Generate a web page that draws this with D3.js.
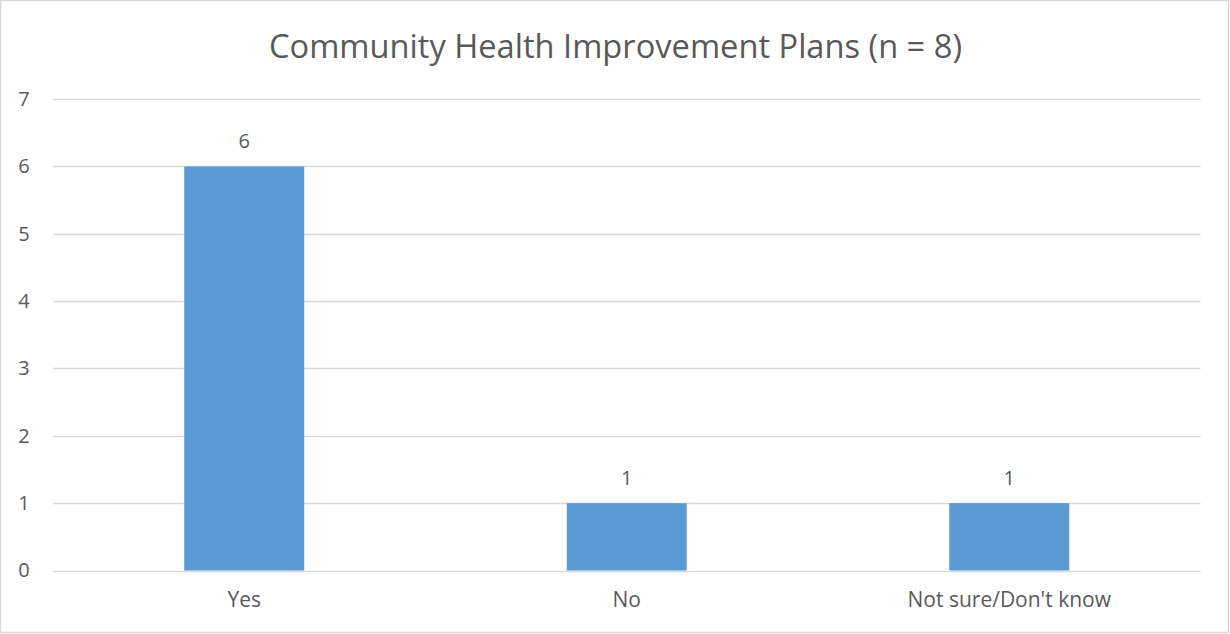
<!DOCTYPE html>
<html>
<head>
<meta charset="utf-8">
<script src="https://cdn.jsdelivr.net/npm/d3@7"></script>
<style>
  html, body { margin: 0; padding: 0; background: #fff; }
  svg { display: block; }
  text { font-family: "Open Sans", "Noto Sans", sans-serif; fill: #595959; }
</style>
</head>
<body>
<svg id="chart" width="1230" height="634"></svg>
<script>
// Survey responses
const categories = ["Yes", "No", "Not sure/Don't know"];
const counts = [6, 1, 1];
const yTicks = [0, 1, 2, 3, 4, 5, 6, 7];
const chartTitle = "Community Health Improvement Plans (n = 8)";

const W = 1230, H = 634;
const plot = { left: 53, right: 1200.5, top: 99, bottom: 570.5 };
const font = '"Open Sans", "Noto Sans", sans-serif';

const svg = d3.select("#chart");

// outer frame
svg.append("rect")
  .attr("x", 0.5).attr("y", 0.5)
  .attr("width", W - 2).attr("height", H - 2)
  .attr("fill", "#fff").attr("stroke", "#d9d9d9").attr("stroke-width", 1.5);

const x = d3.scaleBand()
  .domain(categories)
  .range([plot.left, plot.right])
  .paddingInner(0.6863)
  .paddingOuter(0.3431);

const y = d3.scaleLinear().domain([0, 7]).range([plot.bottom, plot.top]);

// horizontal gridlines
svg.append("g")
  .selectAll("line")
  .data(yTicks)
  .join("line")
  .attr("x1", plot.left).attr("x2", plot.right)
  .attr("y1", d => Math.round(y(d)) + 0.5).attr("y2", d => Math.round(y(d)) + 0.5)
  .attr("stroke", "#d9d9d9").attr("stroke-width", 1.3);

// y axis labels
const yAxis = d3.axisLeft(y).tickValues(yTicks).tickFormat(d3.format("d")).tickSize(0).tickPadding(0);
const gy = svg.append("g").attr("transform", `translate(24,0)`).call(yAxis);
gy.select(".domain").remove();
gy.selectAll("text")
  .attr("text-anchor", "middle")
  .attr("font-size", 20).attr("fill", "#595959")
  .style("font-family", font);

// bars
svg.append("g")
  .selectAll("rect")
  .data(categories)
  .join("rect")
  .attr("x", d => x(d))
  .attr("width", x.bandwidth())
  .attr("y", (d, i) => y(counts[i]))
  .attr("height", (d, i) => y(0) - y(counts[i]))
  .attr("fill", "#5b9bd5");

// value labels
svg.append("g")
  .selectAll("text")
  .data(categories)
  .join("text")
  .attr("x", d => x(d) + x.bandwidth() / 2)
  .attr("y", (d, i) => y(counts[i]) - 18)
  .attr("text-anchor", "middle")
  .attr("font-size", 20)
  .text((d, i) => counts[i]);

// category axis labels
const xAxis = d3.axisBottom(x).tickSize(0).tickPadding(0);
const gx = svg.append("g").attr("transform", `translate(0,${plot.bottom + 22})`).call(xAxis);
gx.select(".domain").remove();
gx.selectAll("text")
  .attr("font-size", 21).attr("fill", "#595959")
  .style("font-family", font);

// title
const title = svg.append("text")
  .attr("x", (269 + 962) / 2)
  .attr("y", 58)
  .attr("text-anchor", "middle")
  .attr("font-size", 33)
  .text(chartTitle);
title.attr("textLength", 693).attr("lengthAdjust", "spacingAndGlyphs");
</script>
</body>
</html>
